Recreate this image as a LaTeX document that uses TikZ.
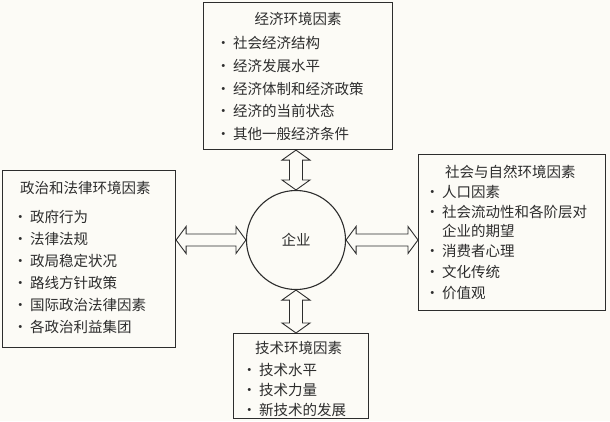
\documentclass[tikz,border=0pt]{standalone}
\usepackage{fontspec}
\setmainfont{Noto Sans CJK SC}
\usetikzlibrary{calc}
\definecolor{ink}{RGB}{45,45,45}
\definecolor{paper}{RGB}{252,251,246}
\tikzset{
  box/.style={draw=ink, line width=1.1pt, inner sep=0pt, anchor=north west},
  ttl/.style={anchor=west, inner sep=0pt, text=ink, font=\fontsize{14.5}{16}\selectfont},
  itm/.style={ttl, execute at begin node={\llap{·\hspace{2.5pt}}}},
  cont/.style={ttl},
  arr/.style={draw=ink, line width=0.9pt, fill=paper, line join=miter},
  firmstyle/.style={circle, draw=ink, line width=1.1pt, minimum size=99pt, inner sep=0pt, text=ink, font=\fontsize{14.5}{16}\selectfont},
}
\newcommand\varrowx[2]{%
  \draw[arr] let \p1=#1, \p2=#2 in
  (\x1,\y1) -- ({\x1-14pt},{\y1-10pt}) -- ({\x1-6.5pt},{\y1-10pt}) -- ({\x1-6.5pt},{\y2+10pt})
  -- ({\x1-14pt},{\y2+10pt}) -- (\x1,\y2) -- ({\x1+14pt},{\y2+10pt}) -- ({\x1+6.5pt},{\y2+10pt})
  -- ({\x1+6.5pt},{\y1-10pt}) -- ({\x1+14pt},{\y1-10pt}) -- cycle;}
\newcommand\harrowx[2]{%
  \draw[arr] let \p1=#1, \p2=#2 in
  (\x1,\y1) -- ({\x1+10pt},{\y1+13.5pt}) -- ({\x1+10pt},{\y1+6pt}) -- ({\x2-10pt},{\y1+6pt})
  -- ({\x2-10pt},{\y1+13.5pt}) -- (\x2,\y1) -- ({\x2-10pt},{\y1-13.5pt}) -- ({\x2-10pt},{\y1-6pt})
  -- ({\x1+10pt},{\y1-6pt}) -- ({\x1+10pt},{\y1-13.5pt}) -- cycle;}
\begin{document}
\begin{tikzpicture}[x=1pt, y=-1pt]
  \fill[paper] (0,0) rectangle (610,421);
  \useasboundingbox (0,0) rectangle (610,421);

  % boxes
  \node[box, minimum width=189pt, minimum height=147pt] (econ) at (203,2) {};
  \node[box, minimum width=173pt, minimum height=177pt] (pol) at (2,170) {};
  \node[box, minimum width=187pt, minimum height=156pt] (soc) at (418,154) {};
  \node[box, minimum width=135pt, minimum height=85pt] (tech) at (233,333) {};
  \node[firmstyle] (firm) at (296,240) {企业};

  % arrows
  \varrowx{(econ.south -| firm.north)}{(firm.north)}
  \varrowx{(firm.south)}{(tech.north -| firm.south)}
  \harrowx{(pol.east |- firm.west)}{(firm.west)}
  \harrowx{(firm.east)}{(soc.west |- firm.east)}

  % economic
  \node[ttl, anchor=center] (econ-t) at (298,19) {经济环境因素};
  \foreach \t [count=\i] in {社会经济结构,经济发展水平,经济体制和经济政策,经济的当前状态,其他一般经济条件}
    \node[itm] (econ-\i) at (233,{43+(\i-1)*22.8}) {\t};

  % political
  \node[ttl] (pol-t) at (20,188) {政治和法律环境因素};
  \foreach \t [count=\i] in {政府行为,法律法规,政局稳定状况,路线方针政策,国际政治法律因素,各政治利益集团}
    \node[itm] (pol-\i) at (30,{216.5+(\i-1)*22}) {\t};

  % social
  \node[ttl] (soc-t) at (445,172) {社会与自然环境因素};
  \node[itm] (soc-1) at (442,192) {人口因素};
  \node[itm] (soc-2) at (442,212) {社会流动性和各阶层对};
  \node[cont] (soc-2b) at (442,231) {企业的期望};
  \node[itm] (soc-3) at (442,251) {消费者心理};
  \node[itm] (soc-4) at (442,272) {文化传统};
  \node[itm] (soc-5) at (442,293) {价值观};

  % technology
  \node[ttl] (tech-t) at (255,348) {技术环境因素};
  \foreach \t [count=\i] in {技术水平,技术力量,新技术的发展}
    \node[itm] (tech-\i) at (259,{370+(\i-1)*20}) {\t};
\end{tikzpicture}
\end{document}
